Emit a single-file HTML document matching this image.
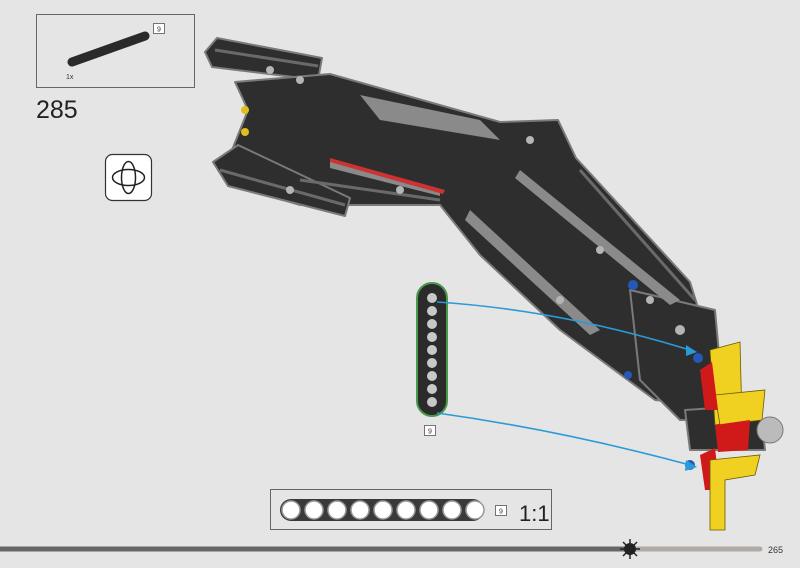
<!DOCTYPE html>
<html><head><meta charset="utf-8"><style>
html,body{margin:0;padding:0;background:#e5e5e5;}
svg{display:block;font-family:"Liberation Sans",sans-serif;}
</style></head><body>
<svg width="800" height="568" viewBox="0 0 800 568" xmlns="http://www.w3.org/2000/svg">
<rect width="800" height="568" fill="#e5e5e5"/>
<rect x="36.5" y="14.5" width="158" height="73" fill="#e5e5e5" stroke="#666" stroke-width="1"/>
<rect x="153.5" y="23.5" width="11" height="10" fill="#fff" stroke="#555" stroke-width="0.8"/>
<text x="159" y="31.5" font-size="7" text-anchor="middle" fill="#333">9</text>
<line x1="72" y1="62" x2="145" y2="36" stroke="#2a2a2a" stroke-width="9" stroke-linecap="round"/>
<text x="66" y="79" font-size="7" fill="#333">1x</text>
<text x="36" y="118" font-size="25" fill="#222">285</text>
<rect x="105.5" y="154.5" width="46" height="46" rx="7" fill="#fff" stroke="#333" stroke-width="1.2"/>
<ellipse cx="128.5" cy="177.5" rx="16" ry="8" fill="none" stroke="#222" stroke-width="1.5"/>
<ellipse cx="128.5" cy="177.5" rx="7" ry="16" fill="none" stroke="#222" stroke-width="1.5"/>
<g fill="#2e2e2e" stroke="#7a7a7a" stroke-width="2" stroke-linejoin="round">
<polygon points="205,52 217,38 322,58 318,80 212,67"/>
<polygon points="235,82 330,74 500,122 558,120 576,158 690,282 705,330 700,405 655,400 560,330 480,255 440,205 300,205 245,188 232,150 248,110"/>
<polygon points="213,162 238,145 350,198 345,216 228,186"/>
<polygon points="630,290 715,310 725,420 680,420 640,380"/>
<polygon points="685,410 760,405 765,450 690,450"/>
</g>
<g fill="#8a8a8a">
<polygon points="330,160 440,190 440,196 330,168"/>
<polygon points="360,95 480,120 500,140 380,120"/>
<polygon points="470,210 600,330 590,335 465,220"/>
<polygon points="520,170 680,300 670,305 515,178"/>
</g>
<g stroke="#6a6a6a" stroke-width="3" fill="none">
<line x1="215" y1="50" x2="318" y2="66"/>
<line x1="220" y1="170" x2="345" y2="205"/>
<line x1="300" y1="180" x2="440" y2="200"/>
<line x1="580" y1="170" x2="695" y2="300"/>
</g>
<polygon points="330,158 445,190 443,194 330,162" fill="#c33"/>
<g fill="#b5b5b5">
<circle cx="300" cy="80" r="4"/><circle cx="270" cy="70" r="4"/><circle cx="530" cy="140" r="4"/>
<circle cx="600" cy="250" r="4"/><circle cx="650" cy="300" r="4"/><circle cx="290" cy="190" r="4"/>
<circle cx="400" cy="190" r="4"/><circle cx="560" cy="300" r="4"/><circle cx="680" cy="330" r="5"/>
</g>
<polygon points="710,350 740,342 742,420 715,425" fill="#f0d020" stroke="#6a5a00" stroke-width="0.8"/>
<polygon points="715,395 765,390 762,420 720,425" fill="#f0d020" stroke="#6a5a00" stroke-width="0.8"/>
<polygon points="700,370 712,362 718,410 705,410" fill="#d01a1a"/>
<polygon points="715,425 750,420 748,450 718,452" fill="#d01a1a"/>
<polygon points="700,455 715,448 720,490 705,490" fill="#d01a1a"/>
<polygon points="710,460 760,455 755,475 725,480 725,530 710,530" fill="#f0d020" stroke="#6a5a00" stroke-width="0.8"/>
<circle cx="770" cy="430" r="13" fill="#bbb" stroke="#777"/>
<circle cx="698" cy="358" r="5" fill="#2459b8"/><circle cx="690" cy="465" r="5" fill="#2459b8"/>
<circle cx="633" cy="285" r="5" fill="#2459b8"/><circle cx="628" cy="375" r="4" fill="#2459b8"/>
<circle cx="245" cy="110" r="4" fill="#e0c020"/><circle cx="245" cy="132" r="4" fill="#e0c020"/>
<rect x="417" y="283" width="30" height="133" rx="15" fill="#2b2b2b" stroke="#4a9a4a" stroke-width="2"/>
<g fill="#c8c8c8"><circle cx="432" cy="298" r="5"/><circle cx="432" cy="311" r="5"/><circle cx="432" cy="324" r="5"/><circle cx="432" cy="337" r="5"/><circle cx="432" cy="350" r="5"/><circle cx="432" cy="363" r="5"/><circle cx="432" cy="376" r="5"/><circle cx="432" cy="389" r="5"/><circle cx="432" cy="402" r="5"/></g>
<rect x="424.5" y="425.5" width="11" height="10" fill="#fff" stroke="#555" stroke-width="0.8"/>
<text x="430" y="433.5" font-size="7" text-anchor="middle" fill="#333">9</text>
<g stroke="#2a9ad8" stroke-width="1.6" fill="none">
<path d="M437,302 Q560,310 690,350"/>
<path d="M437,413 Q560,430 690,465"/>
</g>
<polygon points="697,352 686,345 686,356" fill="#2a9ad8"/>
<polygon points="697,467 686,460 685,471" fill="#2a9ad8"/>
<rect x="270.5" y="489.5" width="281" height="40" fill="#e5e5e5" stroke="#666" stroke-width="1"/>
<rect x="280" y="499" width="204" height="22" rx="11" fill="#3a3a3a"/>
<g fill="#fff" stroke="#999" stroke-width="1.5"><circle cx="291" cy="510" r="9"/><circle cx="314" cy="510" r="9"/><circle cx="337" cy="510" r="9"/><circle cx="360" cy="510" r="9"/><circle cx="383" cy="510" r="9"/><circle cx="406" cy="510" r="9"/><circle cx="429" cy="510" r="9"/><circle cx="452" cy="510" r="9"/><circle cx="475" cy="510" r="9"/></g>
<rect x="495.5" y="505.5" width="11" height="10" fill="#fff" stroke="#555" stroke-width="0.8"/>
<text x="501" y="513.5" font-size="7" text-anchor="middle" fill="#333">9</text>
<text x="519" y="521" font-size="22" fill="#222">1:1</text>
<line x1="0" y1="549" x2="630" y2="549" stroke="#666" stroke-width="5"/>
<line x1="630" y1="549" x2="760" y2="549" stroke="#b0aaa6" stroke-width="5" stroke-linecap="round"/>
<g stroke="#222" stroke-width="1.5"><line x1="620" y1="549" x2="640" y2="549"/><line x1="630" y1="539" x2="630" y2="559"/><line x1="623" y1="542" x2="637" y2="556"/><line x1="637" y1="542" x2="623" y2="556"/></g>
<circle cx="630" cy="549" r="6" fill="#222"/>
<text x="768" y="553" font-size="9" fill="#333">265</text>
</svg>
</body></html>
